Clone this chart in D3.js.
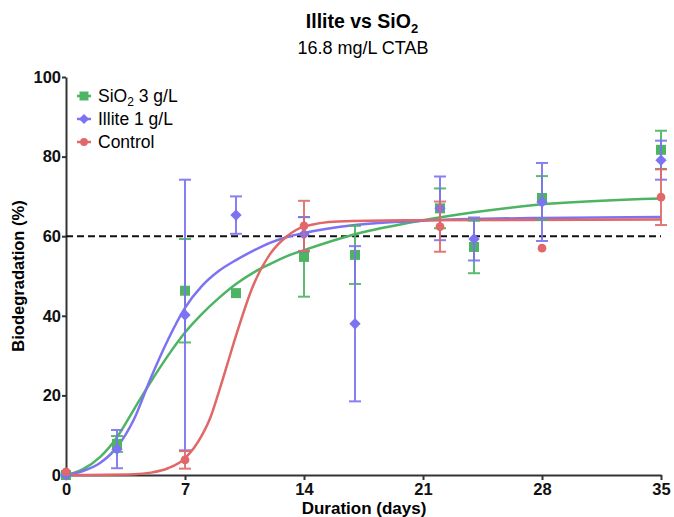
<!DOCTYPE html>
<html>
<head>
<meta charset="utf-8">
<title>Illite vs SiO2</title>
<script src="https://cdn.jsdelivr.net/npm/d3@7"></script>
<style>
    body { margin: 0; background: #fff; }
    svg { font-family: "Liberation Sans", Arial, sans-serif; }
    .axis path, .axis line { stroke: #333; stroke-width: 2; }
    .axis text { font-size: 16.5px; font-weight: bold; fill: #111; }
</style>
</head>
<body>
<div id="chart"></div>
<script>
// measured points
var days = [0, 3, 7, 10, 14, 17, 22, 24, 28, 35];
var sio2Mean = [0, 7.8, 46.3, 45.7, 54.8, 55.3, 67, 57.3, 69.6, 81.7];
var sio2Err = [0, 2, 13, 0, 10, 7.3, 5, 6.6, 5.5, 4.8];
var illiteMean = [0, 6.5, 40.2, 65.3, 60.5, 38, 67, 59.3, 68.6, 79.1];
var illiteErr = [0, 4.8, 34, 4.7, 4.3, 19.5, 8, 5.4, 9.8, 4.9];
var controlDays = [0, 7, 14, 22, 28, 35];
var controlMean = [0.8, 3.8, 62.6, 62.4, 57, 69.8];
var controlErr = [0, 2.2, 6.3, 6.3, 0, 7];

// fitted curves
var sio2FitDays = [0, 1, 2, 3, 4, 5, 6, 7, 8, 9, 10, 11, 12, 13, 14, 17, 21, 24, 28, 35];
var sio2Fit = [0, 1.5, 4.5, 9.5, 16.5, 23.5, 30, 35.8, 40.5, 44.5, 48, 50.8, 53, 55, 56.5, 60.5, 64, 66, 68, 69.5];
var illiteFitDays = [0, 1, 2, 3, 4, 5, 6, 7, 8, 9, 10, 11, 12, 13, 14, 17, 21, 28, 35];
var illiteFit = [0, 1, 3, 7, 14, 24.5, 34, 42, 47.5, 51.3, 54, 56.3, 58.3, 59.8, 60.8, 62.8, 63.9, 64.6, 64.8];
var controlFitDays = [0, 4, 5, 6, 7, 8, 8.5, 9, 9.5, 10, 11, 12, 13, 14, 16, 20, 35];
var controlFit = [0, 0.2, 0.6, 1.7, 4.2, 10, 14.5, 21, 28, 35, 47.5, 55.5, 60, 62.4, 63.7, 64, 64.2];

var threshold = 60;
var xTicks = [0, 7, 14, 21, 28, 35];
var yTicks = [0, 20, 40, 60, 80, 100];

var width = 674, height = 517;
var margin = {left: 66, right: 13, top: 77, bottom: 42};

var svg = d3.select('#chart').append('svg')
        .attr('width', width)
        .attr('height', height);

var x = d3.scaleLinear().domain([0, 35]).range([margin.left, width - margin.right]);
var y = d3.scaleLinear().domain([0, 100]).range([height - margin.bottom, margin.top]);

// title
svg.append('text')
        .attr('x', 362).attr('y', 28)
        .attr('text-anchor', 'middle')
        .style('font-size', '19.5px').style('font-weight', 'bold')
        .html('Illite vs SiO<tspan dy="5" font-size="13px">2</tspan>');
svg.append('text')
        .attr('x', 363).attr('y', 54)
        .attr('text-anchor', 'middle')
        .style('font-size', '18px')
        .text('16.8 mg/L CTAB');

// axes
svg.append('g').attr('class', 'axis')
        .attr('transform', 'translate(0,' + y(0) + ')')
        .call(d3.axisBottom(x).tickValues(xTicks).tickSize(5).tickPadding(3).tickSizeOuter(0));
svg.append('g').attr('class', 'axis')
        .attr('transform', 'translate(' + x(0) + ',0)')
        .call(d3.axisLeft(y).tickValues(yTicks).tickSize(4).tickPadding(1).tickSizeOuter(0));

svg.append('text')
        .attr('x', 364).attr('y', 514)
        .attr('text-anchor', 'middle')
        .style('font-size', '17px').style('font-weight', 'bold')
        .text('Duration (days)');
svg.append('text')
        .attr('transform', 'translate(24,' + y(50) + ') rotate(-90)')
        .attr('text-anchor', 'middle')
        .style('font-size', '16.5px').style('font-weight', 'bold')
        .text('Biodegradation (%)');

// threshold line
svg.append('line')
        .attr('x1', x(0)).attr('x2', x(35))
        .attr('y1', y(threshold)).attr('y2', y(threshold))
        .attr('stroke', '#111').attr('stroke-width', 2)
        .attr('stroke-dasharray', '7,4');

var series = [
    {name: 'SiO2', color: '#4cb462', days: days, mean: sio2Mean, err: sio2Err,
        fitDays: sio2FitDays, fit: sio2Fit, shape: d3.symbolSquare, size: 100, rot: 0},
    {name: 'Illite', color: '#7c72f2', days: days, mean: illiteMean, err: illiteErr,
        fitDays: illiteFitDays, fit: illiteFit, shape: d3.symbolSquare, size: 64, rot: 45},
    {name: 'Control', color: '#e06868', days: controlDays, mean: controlMean, err: controlErr,
        fitDays: controlFitDays, fit: controlFit, shape: d3.symbolCircle, size: 60, rot: 0}
];

var line = d3.line()
        .x(function(d) { return x(d[0]); })
        .y(function(d) { return y(d[1]); })
        .curve(d3.curveMonotoneX);

series.forEach(function(s) {
    svg.append('path')
            .datum(d3.zip(s.fitDays, s.fit))
            .attr('d', line)
            .attr('fill', 'none')
            .attr('stroke', s.color)
            .attr('stroke-width', 2.5);
});

series.forEach(function(s) {
    var pts = d3.zip(s.days, s.mean, s.err);
    var g = svg.append('g').attr('stroke', s.color).attr('stroke-width', 2).attr('opacity', 0.9);
    pts.filter(function(d) { return d[2] > 0; }).forEach(function(d) {
        g.append('line').attr('x1', x(d[0])).attr('x2', x(d[0]))
                .attr('y1', y(d[1] - d[2])).attr('y2', y(d[1] + d[2]));
        [d[1] - d[2], d[1] + d[2]].forEach(function(v) {
            g.append('line').attr('x1', x(d[0]) - 6).attr('x2', x(d[0]) + 6)
                    .attr('y1', y(v)).attr('y2', y(v));
        });
    });
    svg.selectAll(null)
            .data(pts)
            .enter().append('path')
            .attr('transform', function(d) {
                return 'translate(' + x(d[0]) + ',' + y(d[1]) + ') rotate(' + s.rot + ')';
            })
            .attr('d', d3.symbol().type(s.shape).size(s.size))
            .attr('fill', s.color);
});

// legend
var legend = svg.append('g').attr('transform', 'translate(84,96)');
var labels = ['SiO<tspan dy="4" font-size="12px">2</tspan><tspan dy="-4"> 3 g/L</tspan>', 'Illite 1 g/L', 'Control'];
series.forEach(function(s, i) {
    var row = legend.append('g').attr('transform', 'translate(0,' + (i * 23) + ')');
    row.append('line').attr('x1', -7).attr('x2', 7).attr('stroke', s.color).attr('stroke-width', 2.5);
    row.append('path').attr('d', d3.symbol().type(s.shape).size(s.size * 0.8))
            .attr('transform', 'rotate(' + s.rot + ')')
            .attr('fill', s.color);
    row.append('text').attr('x', 14).attr('y', 6)
            .style('font-size', '17.5px')
            .html(labels[i]);
});
</script>
</body>
</html>
